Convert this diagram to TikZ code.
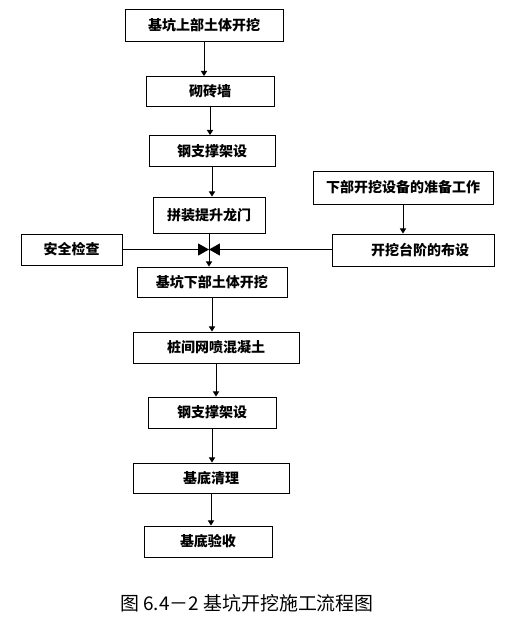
\documentclass[tikz,border=0pt]{standalone}
\usepackage{fontspec}
\setmainfont{Noto Sans CJK SC}
\usepackage{tikz}
\usetikzlibrary{arrows.meta}

\begin{document}
\begin{tikzpicture}[x=0.75pt, y=-0.75pt,
  procbox/.style={draw, line width=0.7pt, inner sep=0pt, align=center,
     font=\fontsize{10.5}{12}\selectfont\bfseries},
  flow/.style={-{Triangle[length=3.8pt,width=4.6pt]}, line width=0.7pt},
  merge/.style={-{Triangle[length=8.2pt,width=9pt]}, line width=0.7pt}]
  \useasboundingbox (0,0) rectangle (515,619);
  % main column
  \node[procbox, minimum width=118.5pt, minimum height=24pt]    (upper)  at (204,25.5)  {基坑上部土体开挖};
  \node[procbox, minimum width=96pt,    minimum height=22.5pt]  (wall)   at (210,91.5)  {砌砖墙};
  \node[procbox, minimum width=94.5pt,  minimum height=23.25pt] (brace)  at (212,151)   {钢支撑架设};
  \node[procbox, minimum width=84pt,    minimum height=27pt]    (gantry) at (209,215)   {拼装提升龙门};
  \node[procbox, minimum width=112.5pt, minimum height=22.5pt]  (lower)  at (212,282)   {基坑下部土体开挖};
  \node[procbox, minimum width=124.5pt, minimum height=23.25pt] (spray)  at (216,347.5) {桩间网喷混凝土};
  \node[procbox, minimum width=96pt,    minimum height=23.25pt] (brace2) at (212,412.5) {钢支撑架设};
  \node[procbox, minimum width=117pt,   minimum height=22.5pt]  (clean)  at (211,478)   {基底清理};
  \node[procbox, minimum width=96pt,    minimum height=23.25pt] (accept) at (208,541.5) {基底验收};
  % side boxes
  \node[procbox, minimum width=75.75pt, minimum height=23.25pt] (safety) at (71.5,249.5) {安全检查};
  \node[procbox, minimum width=135pt,   minimum height=24.75pt] (prep)   at (403,187.5) {下部开挖设备的准备工作};
  \node[procbox, minimum width=121.5pt, minimum height=24pt]    (bench)  at (413,250)   {\hspace*{1em}开挖台阶的布设};
  \coordinate (meet) at (gantry.south |- safety.east);
  % arrows
  \draw[flow] (upper.south)  -- (upper.south  |- wall.north);
  \draw[flow] (wall.south)   -- (wall.south   |- brace.north);
  \draw[flow] (brace.south)  -- (brace.south  |- gantry.north);
  \draw[flow] (gantry.south) -- (gantry.south |- lower.north);
  \draw[flow] (lower.south)  -- (lower.south  |- spray.north);
  \draw[flow] (spray.south)  -- (spray.south  |- brace2.north);
  \draw[flow] (brace2.south) -- (brace2.south |- clean.north);
  \draw[flow] (clean.south)  -- (clean.south  |- accept.north);
  \draw[flow] (prep.south)   -- (prep.south   |- bench.north);
  \draw[merge] (safety.east) -- (meet);
  \draw[merge] (bench.west |- meet) -- (meet);
  % caption
  \node[font=\fontsize{14.2}{16}\selectfont] (caption) at (247,603) {图 6.4－2 基坑开挖施工流程图};
\end{tikzpicture}
\end{document}
